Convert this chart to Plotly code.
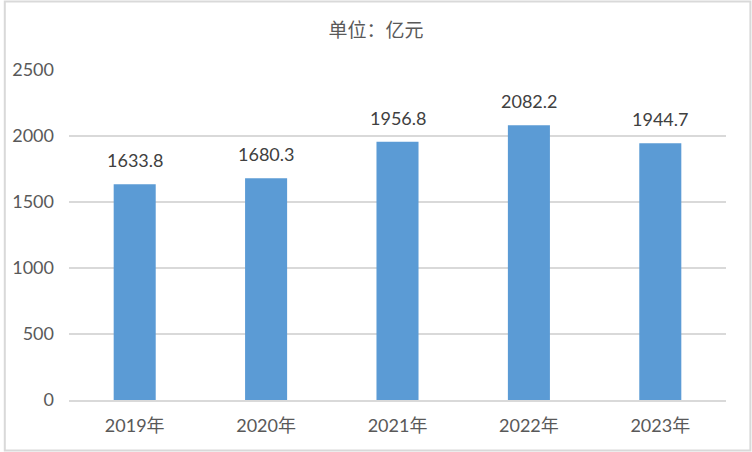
import plotly.graph_objects as go

categories = ["2019年", "2020年", "2021年", "2022年", "2023年"]
values = [1633.8, 1680.3, 1956.8, 2082.2, 1944.7]
value_labels = ["1633.8", "1680.3", "1956.8", "2082.2", "1944.7"]
y_ticks = [0, 500, 1000, 1500, 2000, 2500]

FONT = "Lato, 'Noto Sans CJK SC', sans-serif"
TXT = "#595959"

fig = go.Figure()
fig.add_trace(go.Bar(
    x=categories, y=values,
    marker=dict(color="#5B9BD5", line=dict(width=0)),
    hoverinfo="x+y",
))

for c, v, lab in zip(categories, values, value_labels):
    fig.add_annotation(x=c, y=v, text=lab, showarrow=False, yanchor="bottom",
                       yshift=11, font=dict(size=18, color="#404040", family=FONT))

L, R, T, B = 66, 26, 70, 52
W, H = 752, 452
pw, ph = W - L - R, H - T - B
fig.add_shape(type="rect", xref="paper", yref="paper",
              x0=-(L - 1.5) / pw, x1=1 + (R - 1.5) / pw,
              y0=-(B - 1.5) / ph, y1=1 + (T - 1.5) / ph,
              line=dict(color="#D9D9D9", width=2), layer="below")

fig.update_layout(
    width=W, height=H,
    margin=dict(l=L, r=R, t=T, b=B),
    paper_bgcolor="white", plot_bgcolor="white",
    bargap=0.68,
    showlegend=False,
    title=dict(text="单位：亿元", x=0.5, xanchor="center", y=1 - 30 / H, yanchor="middle",
               font=dict(size=19, color=TXT, family="'Noto Sans CJK SC', sans-serif")),
    font=dict(family=FONT, color=TXT),
    xaxis=dict(showgrid=False, showline=True, linecolor="#D9D9D9", linewidth=2,
               ticks="", ticklabelstandoff=8,
               tickfont=dict(size=18, color=TXT, family=FONT)),
    yaxis=dict(range=[0, 2500], tickvals=y_ticks, showgrid=True, gridcolor="#D9D9D9",
               gridwidth=2, zeroline=False, showline=False, ticks="",
               ticklabelstandoff=14,
               tickfont=dict(size=18, color=TXT, family=FONT)),
)

fig.write_html("out.html", config={"displayModeBar": False},
               post_script="document.body.style.margin='0';document.body.style.overflow='hidden';")
